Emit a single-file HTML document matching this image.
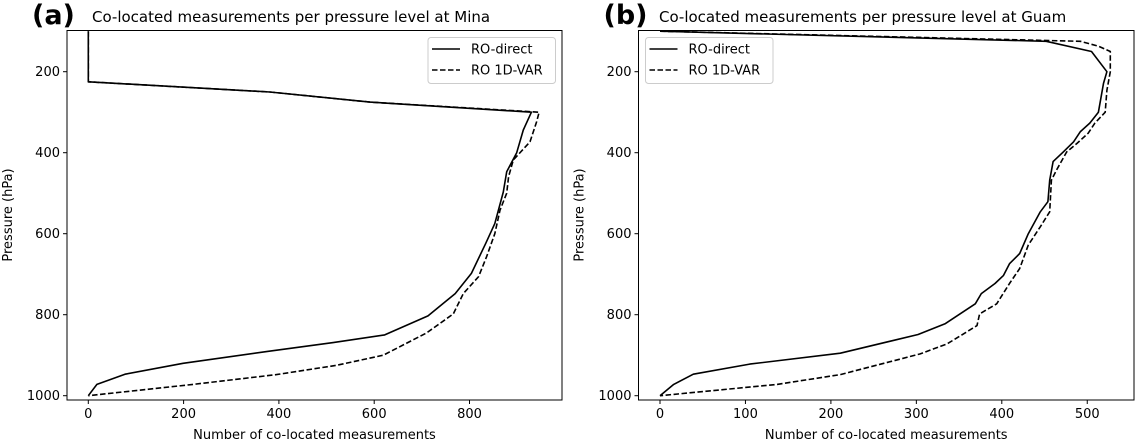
<!DOCTYPE html>
<html><head><meta charset="utf-8"><style>
html,body{margin:0;padding:0;background:#fff;width:1138px;height:440px;overflow:hidden}
svg text{font-family:"DejaVu Sans","Liberation Sans",sans-serif;fill:#000}
</style></head><body>
<svg id="chart" width="1138" height="440" xmlns="http://www.w3.org/2000/svg"></svg>
<script>
// Panel A (Mina)
const pA_direct_p = [100,225,250,275,300,344,400,447,497,575,624,698,748,773,803,850,869,891,920,947,972,1000];
const pA_direct_x = [0,0,381,591,930,913,899,878,871,853,834,804,770,744,713,622,514,374,199,77,18,0];
const pA_var_p = [100,225,250,275,300,323,373,418,459,500,542,600,656,706,748,798,845,900,925,948,972,1000];
const pA_var_x = [0,0,381,591,946,941,927,892,882,878,864,853,836,819,787,766,710,619,521,395,220,0];
const pA_xticks = [0,200,400,600,800];
// Panel B (Guam)
const pB_direct_p = [100,125,150,200,229,300,327,348,373,398,422,468,521,546,600,649,674,703,723,748,773,822,849,895,922,947,972,1000];
const pB_direct_x = [0,452,505,523,519,513,503,492,484,472,460,456,454,445,431,421,409,402,392,376,369,334,302,211,105,39,16,0];
const pB_var_p = [100,125,137,150,200,246,300,327,352,377,398,443,468,546,583,628,686,723,773,798,827,872,897,948,972,1000];
const pB_var_x = [0,492,513,527,527,523,521,509,501,488,476,464,458,456,445,431,421,409,394,374,371,336,304,211,137,0];
const pB_xticks = [0,100,200,300,400,500];
const yticks = [200,400,600,800,1000];

const NS="http://www.w3.org/2000/svg";
const svg=document.getElementById('chart');
function mk(tag,attrs,parent){const e=document.createElementNS(NS,tag);for(const k in attrs)e.setAttribute(k,attrs[k]);(parent||svg).appendChild(e);return e;}

function panel(cfg){
  const g=mk('g',{});
  
  
  const X=v=>cfg.x0+v*cfg.xs;
  const Y=p=>71.7+(p-200)*0.405;
  // lines
  function line(px,pp,dash,nm){
    let d='';for(let i=0;i<px.length;i++)d+=(i?'L':'M')+X(px[i]).toFixed(1)+','+Y(pp[i]).toFixed(1);
    const l=mk('path',{d:d,fill:'none',stroke:'#000','stroke-width':1.6,'stroke-dasharray':dash?'5.5,2.5':'none','stroke-linejoin':'round'},g);
    
    
  }
  const clip=mk('clipPath',{id:'c'+cfg.name},g);
  mk('rect',{x:cfg.L,y:30.5,width:cfg.R-cfg.L,height:369.5},clip);
  const lg=mk('g',{'clip-path':'url(#c'+cfg.name+')'},g);
  const gg=g; 
  // draw lines into clipped group
  const saveG=g;
  (function(){
    function l2(px,pp,dash,nm){
      let d='';for(let i=0;i<px.length;i++)d+=(i?'L':'M')+X(px[i]).toFixed(1)+','+Y(pp[i]).toFixed(1);
      const l=mk('path',{d:d,fill:'none',stroke:'#000','stroke-width':1.6,'stroke-dasharray':dash?'5.5,2.5':'none','stroke-linejoin':'round'},lg);
      
      
    }
    l2(cfg.vx,cfg.vp,true,'ro-1dvar-line');
    l2(cfg.dx,cfg.dp,false,'ro-direct-line');
  })();
  // frame
  const fr=mk('rect',{x:cfg.L,y:30.5,width:cfg.R-cfg.L,height:369.5,fill:'none',stroke:'#000','stroke-width':1},g);
  
  
  // x ticks
  cfg.xt.forEach(v=>{
    const x=X(v);
    mk('line',{x1:x,x2:x,y1:400,y2:404,stroke:'#000'},g);
    const t=mk('text',{x:x,y:418,'text-anchor':'middle','font-size':13},g);
    t.textContent=v;
    
    
  });
  yticks.forEach(v=>{
    const y=Y(v);
    mk('line',{x1:cfg.L-4,x2:cfg.L,y1:y,y2:y,stroke:'#000'},g);
    const t=mk('text',{x:cfg.L-7,y:y+4.5,'text-anchor':'end','font-size':13},g);
    t.textContent=v;
    
    
  });
  const xl=mk('text',{x:(cfg.L+cfg.R)/2,y:439,'text-anchor':'middle','font-size':13},g);
  xl.textContent='Number of co-located measurements';
  
  
  const yl=mk('text',{x:0,y:0,'text-anchor':'middle','font-size':13,transform:'translate('+(cfg.L-55)+',215) rotate(-90)'},g);
  yl.textContent='Pressure (hPa)';
  
  
  const ti=mk('text',{x:cfg.titleX,y:22,'font-size':15},g);
  ti.textContent=cfg.title;
  
  
  const lb=mk('text',{x:cfg.L-35,y:24,'font-size':27,'font-weight':'bold'},g);
  lb.textContent=cfg.label;
  
  
  // legend
  const lgd=mk('g',{},g);
  
  
  mk('rect',{x:cfg.legX,y:37.5,width:127.5,height:46,rx:3,fill:'#fff',stroke:'#ccc'},lgd);
  [['RO-direct','none',49],['RO 1D-VAR','5.5,2.5',70]].forEach(e=>{
    const it=mk('g',{},lgd);
    
    
    mk('line',{x1:cfg.legX+4,x2:cfg.legX+32,y1:e[2],y2:e[2],stroke:'#000','stroke-width':1.6,'stroke-dasharray':e[1]},it);
    const t=mk('text',{x:cfg.legX+43,y:e[2]+4.5,'font-size':13},it);
    t.textContent=e[0];
  });
}
panel({name:'panel-a',L:67,R:562,x0:88.3,xs:0.4765,xt:pA_xticks,dx:pA_direct_x,dp:pA_direct_p,vx:pA_var_x,vp:pA_var_p,title:'Co-located measurements per pressure level at Mina',titleX:92,label:'(a)',legX:428});
panel({name:'panel-b',L:638.5,R:1134,x0:660,xs:0.8545,xt:pB_xticks,dx:pB_direct_x,dp:pB_direct_p,vx:pB_var_x,vp:pB_var_p,title:'Co-located measurements per pressure level at Guam',titleX:659,label:'(b)',legX:645.5});
</script>
</body></html>
